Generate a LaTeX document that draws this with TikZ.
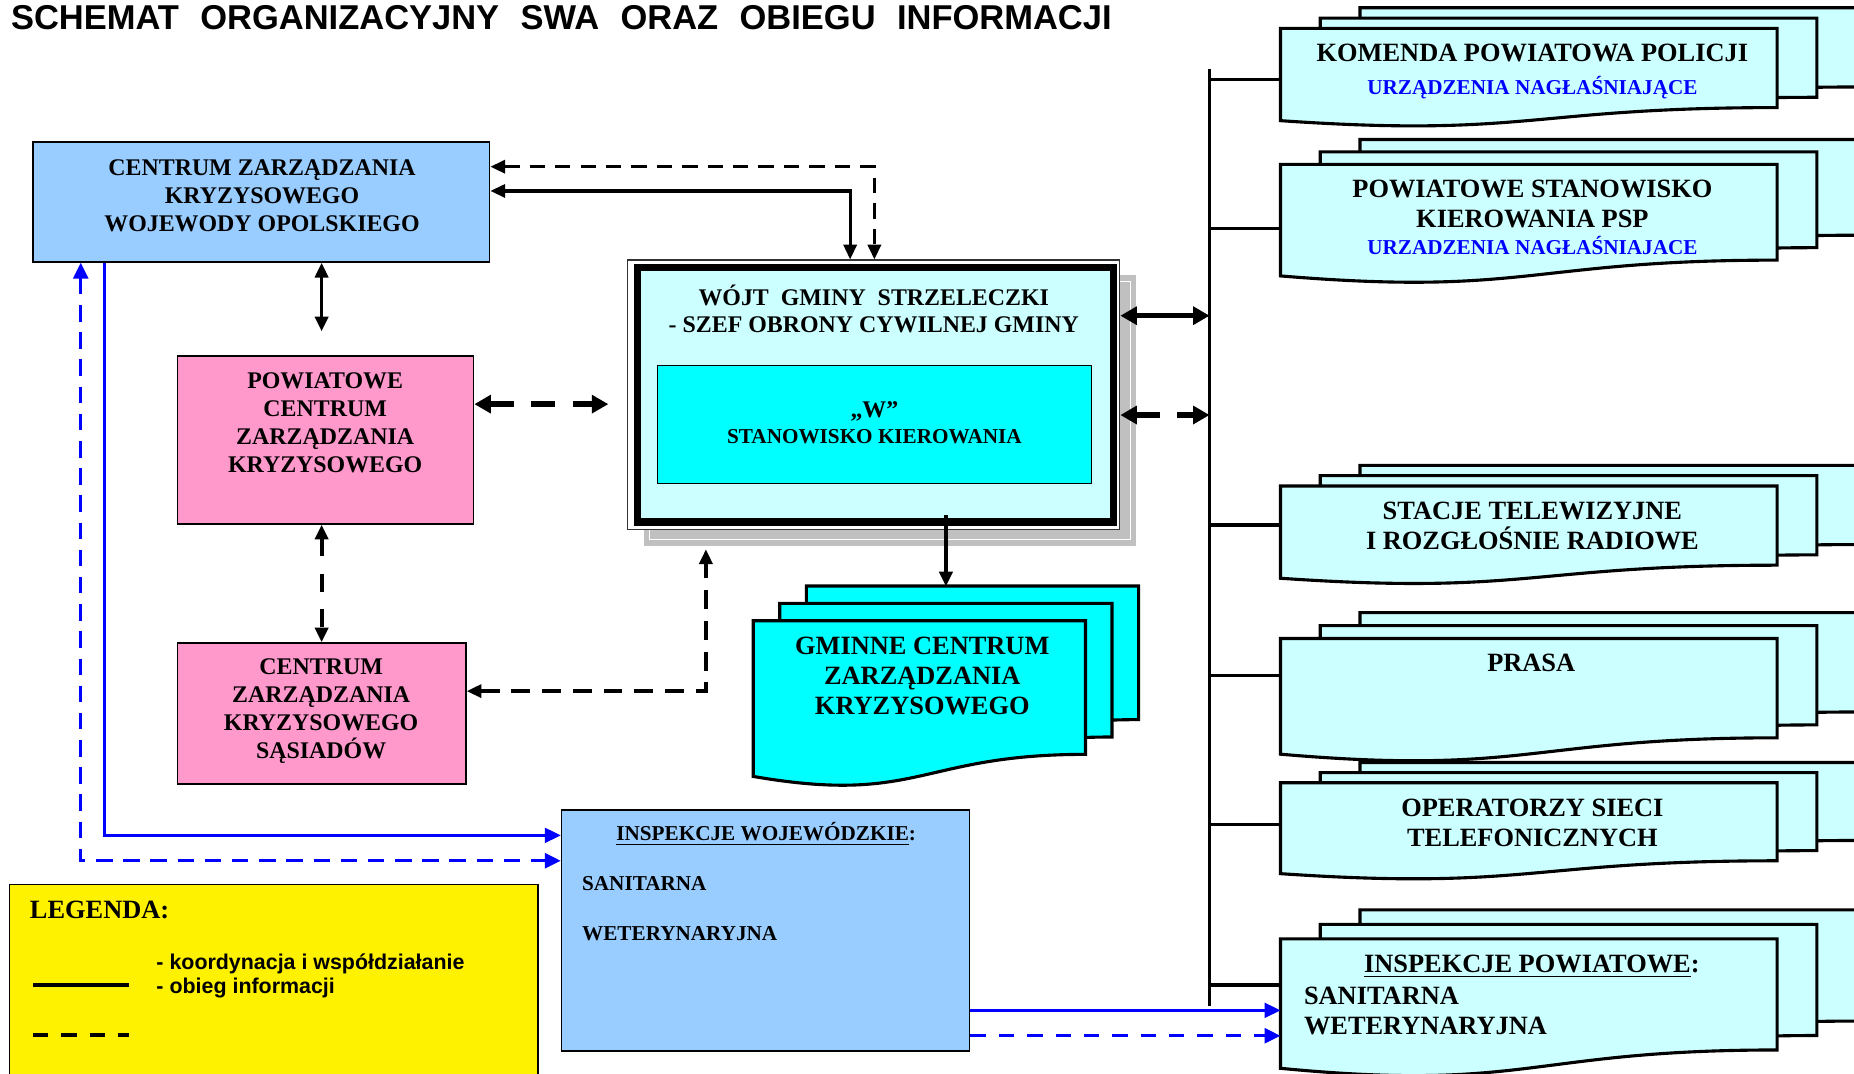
\documentclass[tikz,border=0pt]{standalone}
\usepackage{fontspec}
\setmainfont{Liberation Serif}
\setsansfont{Liberation Sans}
\usetikzlibrary{arrows.meta}
\usetikzlibrary{fit}
\definecolor{ltblue}{HTML}{99CCFF}
\definecolor{pinkfill}{HTML}{FF99CC}
\definecolor{ltcyan}{HTML}{CCFFFF}
\definecolor{cyanfill}{HTML}{00FFFF}
\definecolor{shadowgray}{HTML}{C0C0C0}
\newcommand{\lblfont}{\bfseries\fontsize{11.5}{13.4}\selectfont}
\newcommand{\docfont}{\bfseries\fontsize{12.7}{14.5}\selectfont}
\newcommand{\subfont}{\bfseries\fontsize{10.2}{12}\selectfont}
% stos trzech kartek: wypelnienie, lewy x, gorny y, szerokosc, wysokosc
\newcommand{\multidoc}[5]{%
  \foreach \k in {2,1,0}
    \draw[page, fill=#1, shift={(\k*0.08*#4,-\k*0.13*#5)}] (#2,#3) -- ++(#4,0) -- ++(0,#5)
      .. controls +(-0.5*#4,0) and (#2+0.5*#4,#3+1.38*#5) .. (#2,#3+1.165*#5) -- cycle;
}
\begin{document}
\begin{tikzpicture}[x=0.02cm, y=-0.02cm,
    box/.style={draw, line width=0.8pt, inner sep=0pt},
    page/.style={draw, line width=1.5pt},
    lbl/.style={align=center, inner sep=0pt},
    txt/.style={anchor=base, inner sep=0pt},
    koord/.style={line width=1.5pt},
    obieg/.style={line width=1.6pt, dash pattern=on 0.26cm off 0.17cm},
    head/.tip={Triangle[length=0.25cm, width=0.22cm]},
    bighead/.tip={Triangle[length=0.28cm, width=0.3cm]},
    bluehead/.tip={Triangle[length=0.27cm, width=0.25cm]}]
                \useasboundingbox (0,0) rectangle (1568,908);
                \clip (0,0) rectangle (1568,908);
                \fill[white] (0,0) rectangle (1568,908);

                \node[anchor=base west, inner sep=0pt, font=\sffamily\bfseries\fontsize{16.6}{19}\selectfont] (title) at (9,24.8)
                    {SCHEMAT\hspace{0.62em}ORGANIZACYJNY\hspace{0.62em}SWA\hspace{0.62em}ORAZ\hspace{0.62em}OBIEGU\hspace{0.62em}INFORMACJI};

                \node[box, fill=ltblue, fit={(28,120) (414,221.5)}] (czk) {};
                \node[lbl, font=\lblfont] (czk-t) at (221.6,165.5) {CENTRUM ZARZĄDZANIA\\KRYZYSOWEGO\\WOJEWODY OPOLSKIEGO};

                \node[box, fill=pinkfill, fit={(150,301) (400.5,443)}] (pow) {};
                \node[lbl, font=\lblfont] (pow-t) at (275,357.6) {POWIATOWE\\CENTRUM\\ZARZĄDZANIA\\KRYZYSOWEGO};

                \node[box, fill=pinkfill, fit={(150,544) (394,663)}] (sas) {};
                \node[lbl, font=\lblfont] (sas-t) at (271.6,601.5) {CENTRUM\\ZARZĄDZANIA\\KRYZYSOWEGO\\SĄSIADÓW};

                \fill[shadowgray] (545,233) rectangle (961,462);
                \draw[white, line width=0.5pt] (549.6,237.7) rectangle (955.7,456.5);
                \node[box, fill=white, line width=0.6pt, draw=black!80, fit={(531,220) (947,448)}] (wojt) {};
                \draw[line width=3.4pt, fill=ltcyan] (539,226.5) rectangle (941.5,441.5);
                \node[lbl, font=\lblfont] (wojt-t) at (739,261.3) {WÓJT\ \ GMINY\ \ STRZELECZKI\\- SZEF OBRONY CYWILNEJ GMINY};
                \node[box, line width=0.6pt, fill=cyanfill, fit={(556,309) (923,409)}] (stw) {};
                \node[txt, font=\lblfont] (stw-w) at (739.5,353) {„W”};
                \node[txt, font=\subfont] (stw-t) at (739.5,375) {STANOWISKO KIEROWANIA};

                \multidoc{cyanfill}{637}{525}{281}{113}
                \node[lbl, font=\docfont] (gczk) at (780,572) {GMINNE CENTRUM\\ZARZĄDZANIA\\KRYZYSOWEGO};
                \coordinate (gczk-top) at (800,496);

                \node[box, fill=ltblue, fit={(475,685) (820,889)}] (inspw) {};
                \node[txt, font=\subfont] (inspw-t) at (648,711) {\underline{INSPEKCJE WOJEWÓDZKIE}:};
                \node[txt, anchor=base west, font=\subfont] (inspw-s) at (492,753) {SANITARNA};
                \node[txt, anchor=base west, font=\subfont] (inspw-w) at (492,795) {WETERYNARYJNA};

                \node[box, fill=yellow, fit={(8,748) (455,940)}] (legend) {};
                \node[txt, anchor=base west, font=\docfont] (leg-t) at (25,777) {LEGENDA:};
                \draw[line width=1.6pt] (28,833) -- (109.5,833);
                \draw[line width=1.9pt, dash pattern=on 0.26cm off 0.22cm] (28,875) -- (109.5,875);
                \node[txt, anchor=base west, font=\sffamily\bfseries\fontsize{10.3}{12}\selectfont] (leg-k) at (132,820) {- koordynacja i współdziałanie};
                \node[txt, anchor=base west, font=\sffamily\bfseries\fontsize{10.3}{12}\selectfont] (leg-o) at (132,840) {- obieg informacji};

                \multidoc{ltcyan}{1083}{24}{420}{67}
                \multidoc{ltcyan}{1083}{139}{420}{81}
                \multidoc{ltcyan}{1083}{411}{420}{67}
                \multidoc{ltcyan}{1083}{540}{420}{84}
                \multidoc{ltcyan}{1083}{662}{420}{66}
                \multidoc{ltcyan}{1083}{794}{420}{94}

                \node[txt, font=\docfont] (kpp) at (1296,52) {KOMENDA POWIATOWA POLICJI};
                \node[txt, font=\subfont, text=blue] (kpp-u) at (1296,80) {URZĄDZENIA NAGŁAŚNIAJĄCE};
                \node[lbl, font=\docfont] (psk) at (1296,172.3) {POWIATOWE STANOWISKO\\KIEROWANIA PSP};
                \node[txt, font=\subfont, text=blue] (psk-u) at (1296,215) {URZADZENIA NAGŁAŚNIAJACE};
                \node[lbl, font=\docfont] (stv) at (1296,444.6) {STACJE TELEWIZYJNE\\I ROZGŁOŚNIE RADIOWE};
                \node[txt, font=\docfont] (prasa) at (1295,567.5) {PRASA};
                \node[lbl, font=\docfont] (ops) at (1296,695.8) {OPERATORZY SIECI\\TELEFONICZNYCH};
                \node[txt, font=\docfont] (ipp) at (1295.5,822.7) {\underline{INSPEKCJE POWIATOWE}:};
                \node[lbl, align=left, anchor=west, font=\docfont] (ipp-l) at (1102.5,854.8) {SANITARNA\\WETERYNARYJNA};

                \coordinate (kpp-in) at (1083,67);
                \coordinate (psk-in) at (1083,193);
                \coordinate (stv-in) at (1083,444);
                \coordinate (prasa-in) at (1083,571);
                \coordinate (ops-in) at (1083,697);
                \coordinate (ipp-in) at (1083,833);
                \coordinate (ipp-a) at (1083,854.5);
                \coordinate (ipp-b) at (1083,876);
                \coordinate (bus) at (1023,58.5);
                \coordinate (bus-end) at (1023,851);
                \draw[page] (bus) -- (bus-end);
                \foreach \n in {kpp,psk,stv,prasa,ops,ipp}
                    \draw[page] (bus |- \n-in) -- (\n-in);

                \coordinate (kk) at (719,161.5);
                \coordinate (ko) at (739.5,141);
                \draw[koord, head-head] (czk.east |- kk) -- (kk) -- (kk |- wojt.north);
                \draw[obieg, head-head] (czk.east |- ko) -- (ko) -- (ko |- wojt.north);
                \draw[koord, line width=1.8pt, head-head, shorten >=0.4cm] (sas.north |- czk.south) -- (sas.north |- pow.north);
                \draw[obieg, line width=2.6pt, dash pattern=on 0.4cm off 0.3cm, bighead-bighead, shorten >=0.32cm] (pow.east |- 0,341.8) -- (wojt.west |- 0,341.8);
                \draw[obieg, line width=1.9pt, dash pattern=on 0.3cm off 0.3cm, head-head] (sas.north |- pow.south) -- (sas.north);
                \coordinate (sk) at (597,584.5);
                \draw[obieg, line width=1.7pt, dash pattern=on 0.32cm off 0.2cm, head-head, shorten >=0.32cm] (sas.east |- sk) -- (sk) -- (sk |- wojt.south);
                \draw[koord, line width=1.9pt, -head, shorten <=-0.26cm] (gczk-top |- wojt.south) -- (gczk-top);
                \draw[koord, line width=2.6pt, bighead-bighead] (wojt.east |- 0,267) -- (bus |- 0,267);
                \draw[obieg, line width=2.6pt, dash pattern=on 0.4cm off 0.3cm, bighead-bighead] (wojt.east |- 0,351) -- (bus |- 0,351);

                \draw[blue, line width=1.3pt, -bluehead] ([xshift=1.22cm]czk.south west) |- (inspw.west |- 0,706.5);
                \draw[blue, line width=1.6pt, dash pattern=on 0.28cm off 0.18cm, bluehead-bluehead] ([xshift=0.82cm]czk.south west) |- (inspw.west |- 0,728);
                \draw[blue, line width=1.3pt, -bluehead] (inspw.east |- ipp-a) -- (ipp-a);
                \draw[blue, line width=1.6pt, dash pattern=on 0.26cm off 0.22cm, -bluehead] (inspw.east |- ipp-b) -- (ipp-b);
            \end{tikzpicture}
\end{document}
